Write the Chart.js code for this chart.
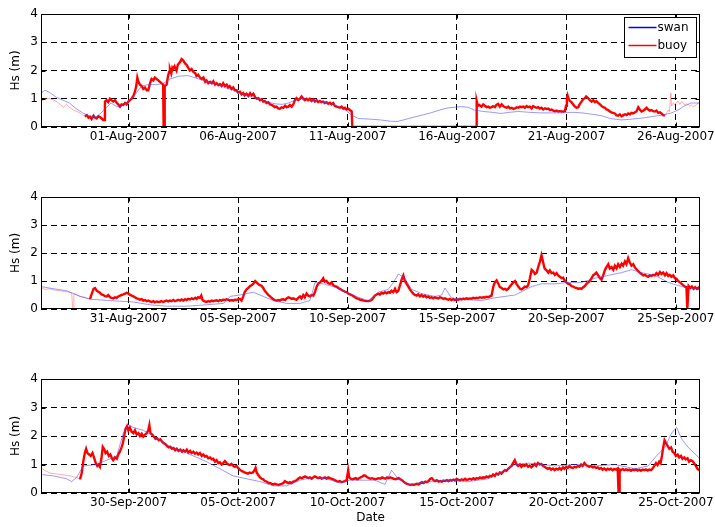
<!DOCTYPE html>
<html>
<head>
<meta charset="utf-8">
<script src="https://cdn.jsdelivr.net/npm/chart.js@4.4.0/dist/chart.umd.min.js"></script>
<style>
  body { margin: 0; background: #fff; }
  #wrap { position: relative; width: 715px; height: 527px; }
  .panel { position: absolute; left: 0; width: 715px; }
</style>
</head>
<body>
<div id="wrap">
  <div class="panel" style="top:0;height:160px"><canvas id="c1"></canvas></div>
  <div class="panel" style="top:180px;height:160px"><canvas id="c2"></canvas></div>
  <div class="panel" style="top:360px;height:167px"><canvas id="c3"></canvas></div>
</div>
<script>
// x = days since the start of each panel (28-Jul, 27-Aug, 26-Sep 2007), y = Hs in metres
const tickDays = [4, 9, 14, 19, 24, 29];
const augLabels = ["01-Aug-2007", "06-Aug-2007", "11-Aug-2007", "16-Aug-2007", "21-Aug-2007", "26-Aug-2007"];
const sepLabels = ["31-Aug-2007", "05-Sep-2007", "10-Sep-2007", "15-Sep-2007", "20-Sep-2007", "25-Sep-2007"];
const octLabels = ["30-Sep-2007", "05-Oct-2007", "10-Oct-2007", "15-Oct-2007", "20-Oct-2007", "25-Oct-2007"];
const yTicks = [0, 1, 2, 3, 4];
const seriesNames = ["swan", "buoy"];

const swanAug = [[0,1.2],[0.18,1.3],[0.4,1.22],[0.7,1.05],[1.0,0.95],[1.3,0.85],[1.6,0.65],[1.9,0.5],[2.2,0.4],[2.5,0.35],[2.75,0.5],[3.0,0.7],[3.2,0.85],[3.4,0.75],[3.6,0.7],[3.9,0.85],[4.1,0.95],[4.3,1.15],[4.6,1.45],[4.9,1.5],[5.3,1.5],[5.6,1.55],[5.9,1.7],[6.3,1.8],[6.7,1.82],[7.0,1.75],[7.4,1.65],[7.9,1.55],[8.4,1.4],[8.8,1.3],[9.2,1.15],[9.7,1.05],[10.2,0.92],[10.7,0.82],[11.0,0.8],[11.3,0.85],[11.6,0.95],[11.9,1.0],[12.3,0.97],[12.7,0.9],[13.1,0.85],[13.5,0.75],[13.9,0.6],[14.2,0.42],[14.5,0.3],[15.0,0.28],[15.5,0.25],[16.0,0.2],[16.3,0.2],[16.8,0.3],[17.3,0.4],[17.8,0.5],[18.2,0.6],[18.6,0.68],[18.9,0.7],[19.2,0.72],[19.5,0.7],[19.8,0.6],[20.2,0.55],[20.6,0.52],[21.0,0.48],[21.4,0.52],[21.8,0.55],[22.3,0.52],[22.8,0.5],[23.3,0.5],[23.8,0.5],[24.3,0.52],[24.7,0.5],[25.2,0.45],[25.6,0.4],[26.0,0.3],[26.5,0.25],[27.0,0.28],[27.5,0.32],[28.0,0.38],[28.4,0.42],[28.8,0.5],[29.1,0.6],[29.4,0.75],[29.7,0.85],[30.1,0.85]];

const buoyAug = [[0,0.9],[0.2,1.0],[0.41,1.0],[0.6,0.95],[0.72,0.9],[0.87,0.8],[1.02,0.7],[1.17,0.8],[1.3,0.7],[1.48,0.6],[1.63,0.55],[1.78,0.5],[1.93,0.4],
[2.0,0.38],[2.09,0.42],[2.17,0.33],[2.24,0.36],[2.31,0.28],[2.4,0.4],[2.47,0.33],[2.54,0.3],[2.62,0.38],[2.69,0.35],[2.77,0.3],[2.85,0.25],[2.9,0.25],[2.92,0.9],[3.0,0.95],[3.07,0.88],[3.15,1.0],[3.22,0.95],[3.3,0.9],[3.38,0.95],[3.46,0.85],[3.53,0.8],[3.61,0.72],[3.68,0.8],[3.76,0.78],[3.84,0.85],[3.91,0.8],[3.99,0.9],[4.07,0.95],[4.14,1.0],[4.22,1.1],[4.29,1.25],[4.35,1.45],[4.4,1.75],[4.45,1.6],[4.52,1.5],[4.6,1.45],[4.67,1.35],[4.75,1.4],[4.83,1.3],[4.9,1.3],[4.95,1.45],[5.0,1.6],[5.05,1.7],[5.13,1.65],[5.2,1.75],[5.28,1.7],[5.36,1.65],[5.43,1.6],[5.5,1.55],[5.58,1.5],[5.6,0],[5.63,0],[5.65,1.45],[5.74,1.5],[5.8,1.8],[5.85,1.95],[5.89,2.05],[5.95,1.9],[6.0,2.1],[6.04,2.05],[6.1,2.15],[6.19,2.0],[6.25,2.2],[6.35,2.3],[6.42,2.4],[6.5,2.35],[6.58,2.25],[6.65,2.2],[6.72,2.1],[6.8,2.0],[6.88,2.05],[6.96,1.95],[7.05,1.9],[7.1,1.8],[7.18,1.85],[7.26,1.75],[7.34,1.7],[7.42,1.75],[7.5,1.6],[7.56,1.65],[7.64,1.55],[7.72,1.6],[7.8,1.55],[7.87,1.62],[7.95,1.5],[8.02,1.55],[8.1,1.48],[8.17,1.52],[8.25,1.45],[8.32,1.55],[8.4,1.45],[8.48,1.5],[8.55,1.4],[8.62,1.45],[8.7,1.35],[8.78,1.4],[8.85,1.3],[8.93,1.3],[9.0,1.22],[9.09,1.25],[9.16,1.15],[9.24,1.2],[9.3,1.12],[9.39,1.18],[9.47,1.1],[9.55,1.2],[9.62,1.12],[9.7,1.18],[9.78,1.05],[9.85,1.0],[9.93,1.02],[10.0,0.95],[10.08,0.98],[10.15,0.9],[10.22,0.92],[10.3,0.85],[10.38,0.88],[10.46,0.8],[10.53,0.78],[10.61,0.75],[10.68,0.7],[10.76,0.72],[10.83,0.66],[10.91,0.65],[10.99,0.7],[11.07,0.68],[11.15,0.75],[11.22,0.7],[11.3,0.72],[11.37,0.78],[11.45,0.72],[11.52,0.8],[11.6,0.95],[11.67,1.02],[11.75,0.95],[11.83,1.0],[11.9,1.08],[11.98,1.0],[12.05,0.95],[12.13,1.0],[12.2,0.95],[12.28,1.0],[12.36,0.92],[12.44,0.98],[12.51,0.9],[12.59,0.95],[12.66,0.88],[12.74,0.92],[12.81,0.88],[12.89,0.9],[12.96,0.85],[13.04,0.88],[13.12,0.82],[13.2,0.86],[13.27,0.8],[13.35,0.85],[13.42,0.75],[13.5,0.72],[13.58,0.7],[13.65,0.68],[13.73,0.72],[13.81,0.65],[13.88,0.68],[13.96,0.62],[14.03,0.65],[14.11,0.6],[14.19,0.55],[14.22,0],[19.88,0],
[19.9,0.92],[19.95,0.75],[20.02,0.78],[20.12,0.72],[20.2,0.8],[20.28,0.75],[20.35,0.7],[20.43,0.72],[20.5,0.68],[20.58,0.7],[20.65,0.74],[20.73,0.7],[20.8,0.78],[20.88,0.82],[20.96,0.72],[21.04,0.8],[21.12,0.74],[21.19,0.7],[21.27,0.68],[21.34,0.72],[21.42,0.66],[21.5,0.68],[21.58,0.64],[21.65,0.66],[21.73,0.7],[21.8,0.68],[21.88,0.72],[21.95,0.7],[22.03,0.72],[22.1,0.68],[22.18,0.74],[22.25,0.7],[22.33,0.72],[22.41,0.66],[22.48,0.74],[22.56,0.7],[22.64,0.68],[22.71,0.7],[22.79,0.65],[22.86,0.68],[22.94,0.62],[23.02,0.66],[23.09,0.64],[23.17,0.65],[23.25,0.6],[23.32,0.62],[23.4,0.58],[23.47,0.56],[23.55,0.58],[23.62,0.55],[23.7,0.56],[23.78,0.55],[23.85,0.55],[23.93,0.56],[23.98,0.75],[24.02,1.0],[24.05,1.12],[24.1,1.0],[24.16,0.92],[24.23,0.88],[24.31,0.8],[24.39,0.72],[24.46,0.68],[24.54,0.7],[24.6,0.8],[24.69,0.9],[24.76,0.98],[24.84,1.02],[24.9,1.08],[24.99,1.02],[25.07,0.95],[25.15,0.9],[25.22,0.95],[25.3,0.88],[25.37,0.92],[25.45,0.85],[25.53,0.8],[25.6,0.75],[25.68,0.7],[25.76,0.68],[25.83,0.62],[25.91,0.6],[25.98,0.55],[26.06,0.52],[26.13,0.5],[26.21,0.48],[26.28,0.42],[26.36,0.4],[26.44,0.45],[26.52,0.38],[26.6,0.42],[26.67,0.45],[26.75,0.42],[26.82,0.48],[26.9,0.45],[26.97,0.5],[27.05,0.48],[27.13,0.52],[27.2,0.55],[27.28,0.7],[27.35,0.62],[27.43,0.55],[27.51,0.58],[27.58,0.62],[27.66,0.68],[27.73,0.62],[27.81,0.58],[27.89,0.6],[27.96,0.56],[28.04,0.55],[28.11,0.58],[28.19,0.5],[28.27,0.52],[28.34,0.48],[28.42,0.42],[28.5,0.4],
[28.58,0.5],[28.65,0.6],[28.7,0.55],[28.77,1.2],[28.8,0.75],[28.88,0.85],[28.95,0.8],[29.03,0.88],[29.1,0.92],[29.18,0.8],[29.26,0.9],[29.33,0.85],[29.41,0.78],[29.48,0.82],[29.56,0.8],[29.64,0.74],[29.71,0.78],[29.79,0.72],[29.87,0.75],[29.95,0.8],[30.02,0.85],[30.1,0.82]];

const swanSep = [[0,0.8],[0.6,0.72],[1.17,0.65],[1.5,0.55],[1.78,0.45],[2.24,0.35],[3.15,0.3],[4.22,0.25],[4.98,0.15],[5.74,0.1],[6.65,0.1],[7.56,0.15],[8.33,0.2],[8.5,0.3],[8.63,0.45],[9.09,0.5],[9.7,0.6],[10.15,0.45],[10.61,0.3],[11.22,0.2],[11.83,0.2],[12.28,0.3],[12.4,0.6],[12.51,0.95],[12.89,0.9],[13.35,0.8],[13.96,0.6],[14.5,0.42],[14.95,0.3],[15.41,0.6],[15.86,0.7],[16.1,0.95],[16.32,1.25],[16.62,1.1],[16.93,0.7],[17.38,0.55],[17.99,0.45],[18.3,0.5],[18.45,0.75],[18.75,0.4],[19.21,0.35],[20.12,0.3],[20.73,0.4],[21.65,0.5],[22.41,0.8],[22.86,0.9],[23.47,0.9],[24.08,0.95],[24.69,0.95],[25.3,1.1],[25.91,1.2],[26.52,1.3],[26.97,1.4],[27.43,1.3],[28.04,1.2],[28.65,0.95],[29.26,0.8],[30.1,0.7]];

const buoySep = [[0,0.75],[0.2,0.7],[0.41,0.72],[0.6,0.68],[0.87,0.65],[1.1,0.62],[1.3,0.6],[1.4,0.58],[1.45,0],[1.48,0],[1.5,0.55],[1.63,0.5],[1.8,0.45],[2.0,0.42],[2.15,0.38],
[2.24,0.35],[2.32,0.55],[2.4,0.72],[2.47,0.75],[2.55,0.65],[2.62,0.62],[2.69,0.58],[2.77,0.52],[2.85,0.5],[2.92,0.46],[3.0,0.45],[3.07,0.5],[3.15,0.42],[3.22,0.4],[3.3,0.38],[3.38,0.42],[3.46,0.4],[3.53,0.45],[3.61,0.48],[3.68,0.5],[3.76,0.52],[3.84,0.55],[3.91,0.58],[3.99,0.55],[4.07,0.5],[4.14,0.48],[4.22,0.45],[4.29,0.42],[4.37,0.38],[4.45,0.36],[4.52,0.33],[4.6,0.35],[4.67,0.3],[4.75,0.32],[4.83,0.28],[4.9,0.3],[4.98,0.27],[5.05,0.25],[5.13,0.28],[5.2,0.24],[5.28,0.27],[5.36,0.25],[5.43,0.26],[5.5,0.28],[5.58,0.25],[5.66,0.28],[5.74,0.3],[5.81,0.27],[5.89,0.3],[5.96,0.28],[6.04,0.32],[6.12,0.28],[6.19,0.3],[6.27,0.33],[6.35,0.3],[6.42,0.34],[6.5,0.3],[6.58,0.35],[6.65,0.32],[6.72,0.36],[6.8,0.34],[6.88,0.38],[6.96,0.35],[7.05,0.4],[7.11,0.36],[7.18,0.42],[7.26,0.4],[7.32,0.48],[7.38,0.32],[7.45,0.28],[7.56,0.25],[7.64,0.28],[7.72,0.26],[7.8,0.3],[7.87,0.28],[7.95,0.3],[8.02,0.31],[8.1,0.28],[8.17,0.32],[8.25,0.3],[8.32,0.33],[8.4,0.32],[8.48,0.35],[8.55,0.33],[8.62,0.3],[8.7,0.32],[8.78,0.3],[8.85,0.33],[8.93,0.32],[9.0,0.35],[9.09,0.36],[9.16,0.3],[9.24,0.45],[9.3,0.6],[9.39,0.7],[9.47,0.75],[9.55,0.82],[9.62,0.85],[9.7,0.9],[9.78,1.0],[9.85,0.95],[9.93,0.88],[10.0,0.85],[10.08,0.82],[10.15,0.75],[10.22,0.65],[10.3,0.58],[10.38,0.5],[10.46,0.45],[10.53,0.4],[10.61,0.35],[10.68,0.32],[10.76,0.3],[10.83,0.32],[10.91,0.3],[10.99,0.34],[11.07,0.35],[11.15,0.32],[11.22,0.38],[11.3,0.42],[11.37,0.4],[11.45,0.36],[11.52,0.38],[11.6,0.35],[11.67,0.33],[11.75,0.4],[11.83,0.45],[11.9,0.38],[11.98,0.5],[12.05,0.42],[12.13,0.55],[12.2,0.48],[12.28,0.45],[12.36,0.5],[12.44,0.48],[12.51,0.6],[12.59,0.8],[12.66,0.9],[12.74,0.95],[12.81,1.0],[12.89,1.1],[12.96,0.98],[13.04,1.0],[13.12,0.92],[13.2,0.9],[13.27,0.95],[13.35,0.85],[13.42,0.82],[13.5,0.8],[13.58,0.75],[13.65,0.72],[13.73,0.68],[13.81,0.65],[13.88,0.62],[13.96,0.6],[14.03,0.55],[14.11,0.52],[14.19,0.5],[14.26,0.46],[14.34,0.42],
[14.42,0.38],[14.5,0.36],[14.58,0.33],[14.65,0.32],[14.73,0.3],[14.8,0.29],[14.88,0.28],[14.95,0.28],[15.03,0.3],[15.1,0.32],[15.18,0.4],[15.25,0.48],[15.33,0.52],[15.41,0.55],[15.48,0.52],[15.56,0.58],[15.63,0.55],[15.71,0.6],[15.79,0.56],[15.86,0.6],[15.94,0.58],[16.01,0.65],[16.09,0.6],[16.17,0.72],[16.24,0.6],[16.32,0.65],[16.4,0.85],[16.47,1.05],[16.55,1.2],[16.62,1.0],[16.7,0.9],[16.78,0.8],[16.85,0.7],[16.93,0.62],[17.0,0.55],[17.08,0.5],[17.16,0.48],[17.23,0.52],[17.31,0.45],[17.38,0.5],[17.46,0.44],[17.53,0.48],[17.61,0.42],[17.69,0.45],[17.76,0.4],[17.84,0.42],[17.92,0.38],[17.99,0.42],[18.07,0.4],[18.15,0.38],[18.22,0.42],[18.3,0.4],[18.38,0.36],[18.45,0.38],[18.53,0.35],[18.6,0.33],[18.68,0.36],[18.75,0.32],[18.83,0.35],[18.91,0.32],[18.98,0.34],[19.06,0.33],[19.13,0.36],[19.21,0.34],[19.29,0.37],[19.36,0.35],[19.44,0.38],[19.52,0.36],[19.59,0.38],[19.67,0.37],[19.74,0.4],[19.82,0.38],[19.9,0.4],[19.97,0.39],[20.05,0.42],[20.12,0.4],[20.2,0.42],[20.28,0.41],[20.35,0.44],[20.43,0.42],[20.5,0.45],[20.58,0.48],[20.66,0.8],[20.73,0.95],[20.81,1.02],[20.89,0.9],[20.96,0.78],[21.04,0.75],[21.12,0.7],[21.19,0.72],[21.27,0.68],[21.34,0.72],[21.42,0.8],[21.5,0.88],[21.57,0.95],[21.65,1.0],[21.72,0.9],[21.8,0.8],[21.88,0.72],[21.95,0.7],[22.03,0.75],[22.1,0.8],[22.18,0.78],[22.25,0.85],[22.33,1.1],[22.41,1.4],[22.48,1.35],[22.56,1.25],[22.64,1.3],[22.71,1.5],[22.79,1.7],[22.86,1.92],[22.94,1.65],[23.0,1.45],[23.09,1.38],[23.17,1.3],[23.24,1.38],[23.32,1.28],[23.4,1.3],[23.47,1.22],[23.55,1.28],[23.62,1.2],[23.7,1.15],[23.78,1.1],[23.85,1.12],[23.93,1.0],[24.0,0.95],[24.08,0.9],[24.16,0.88],[24.23,0.82],[24.31,0.8],[24.39,0.76],[24.46,0.75],[24.54,0.72],[24.62,0.74],[24.69,0.72],[24.77,0.78],[24.84,0.82],[24.92,0.9],[24.99,0.95],[25.07,1.0],[25.15,1.1],[25.22,1.2],[25.3,1.25],[25.37,1.3],[25.45,1.2],[25.53,1.1],[25.6,1.05],[25.68,1.2],[25.76,1.4],[25.83,1.5],[25.91,1.6],[25.98,1.45],[26.06,1.5],[26.14,1.4],[26.21,1.55],[26.29,1.45],[26.36,1.6],[26.44,1.5],[26.52,1.62],[26.59,1.55],[26.67,1.7],[26.74,1.6],[26.82,1.82],[26.9,1.65],[26.97,1.55],[27.05,1.6],[27.13,1.48],[27.2,1.42],[27.28,1.35],[27.35,1.3],[27.43,1.25],[27.51,1.2],[27.58,1.22],[27.66,1.18],[27.73,1.15],[27.81,1.2],[27.89,1.18],[27.96,1.22],[28.04,1.2],[28.11,1.28],[28.19,1.22],[28.27,1.32],[28.34,1.25],[28.42,1.3],[28.5,1.2],[28.57,1.28],[28.65,1.18],[28.72,1.22],[28.8,1.15],[28.88,1.2],[28.95,1.1],[29.03,1.08],[29.1,1.0],[29.18,0.95],[29.26,0.9],[29.33,0.85],[29.41,0.8],[29.48,0.78],[29.52,0],[29.55,0],[29.58,0.82],[29.66,0.75],[29.73,0.8],[29.81,0.72],[29.88,0.78],[29.96,0.72],[30.03,0.76],[30.1,0.7]];

const swanOct = [[0,0.65],[0.56,0.6],[1.17,0.5],[1.4,0.4],[1.63,0.55],[1.93,0.95],[2.54,1.0],[3.0,1.15],[3.46,1.3],[3.76,2.1],[3.99,2.4],[4.22,2.3],[4.67,2.2],[5.13,2.0],[5.74,1.7],[6.35,1.5],[6.96,1.3],[7.56,1.1],[8.17,0.85],[8.78,0.6],[9.39,0.5],[10.0,0.4],[10.61,0.25],[11.22,0.25],[11.83,0.45],[12.44,0.55],[13.04,0.5],[13.65,0.35],[14.11,0.45],[14.6,0.45],[15.25,0.45],[15.71,0.3],[16.01,0.8],[16.32,0.5],[16.78,0.3],[17.69,0.4],[18.6,0.45],[19.52,0.4],[20.43,0.5],[21.19,0.8],[21.65,1.0],[22.25,1.05],[22.86,1.0],[23.47,0.95],[24.39,1.0],[25.3,0.95],[26.21,1.0],[27.13,0.85],[27.73,0.95],[28.11,1.3],[28.5,1.6],[28.8,2.1],[29.03,2.3],[29.26,1.9],[29.56,1.6],[30.1,1.2]];

const buoyOct = [[0,0.88],[0.2,0.78],[0.41,0.7],[0.6,0.68],[0.8,0.66],[1.0,0.64],[1.17,0.62],[1.35,0.6],[1.5,0.56],[1.63,0.55],[1.72,0.5],
[1.78,0.48],[1.86,0.7],[1.93,1.1],[2.0,1.4],[2.06,1.55],[2.12,1.4],[2.2,1.35],[2.27,1.3],[2.35,1.4],[2.42,1.25],[2.5,1.05],[2.57,0.95],[2.63,1.0],[2.69,0.92],[2.76,1.2],[2.82,1.62],[2.88,1.55],[2.95,1.4],[3.02,1.45],[3.1,1.3],[3.17,1.35],[3.25,1.2],[3.3,1.15],[3.38,1.25],[3.46,1.2],[3.53,1.35],[3.6,1.45],[3.68,1.6],[3.74,1.75],[3.8,2.0],[3.86,2.25],[3.93,2.35],[3.99,2.2],[4.06,2.3],[4.14,2.15],[4.22,2.1],[4.29,2.2],[4.37,2.05],[4.45,2.1],[4.52,2.0],[4.6,2.08],[4.67,1.98],[4.75,2.05],[4.83,2.1],[4.9,2.2],[4.95,2.38],[5.0,2.1],[5.08,2.05],[5.15,1.98],[5.23,1.9],[5.3,1.92],[5.38,1.85],[5.45,1.88],[5.53,1.8],[5.6,1.75],[5.68,1.72],[5.75,1.65],[5.83,1.6],[5.9,1.62],[5.98,1.55],[6.05,1.58],[6.13,1.5],[6.2,1.55],[6.28,1.48],[6.36,1.52],[6.44,1.45],[6.5,1.5],[6.58,1.45],[6.66,1.52],[6.73,1.42],[6.81,1.48],[6.88,1.4],[6.96,1.45],[7.03,1.38],[7.11,1.42],[7.18,1.35],[7.26,1.4],[7.34,1.3],[7.41,1.35],[7.49,1.28],[7.56,1.3],[7.64,1.22],[7.72,1.25],[7.8,1.18],[7.87,1.2],[7.95,1.1],[8.02,1.15],[8.1,1.05],[8.17,1.08],[8.25,1.0],[8.32,1.05],[8.4,1.12],[8.48,1.05],[8.55,1.0],[8.63,0.98],[8.7,1.02],[8.78,0.95],[8.85,0.92],[8.93,0.95],[9.0,0.88],[9.08,0.82],[9.15,0.78],[9.23,0.75],[9.3,0.72],[9.38,0.7],[9.45,0.68],[9.53,0.72],[9.6,0.7],[9.68,0.72],[9.75,0.8],[9.8,0.88],[9.85,0.72],[9.93,0.62],[10.0,0.55],[10.08,0.5],[10.15,0.48],[10.23,0.42],[10.3,0.4],[10.38,0.36],[10.46,0.35],[10.53,0.32],[10.61,0.3],[10.68,0.32],[10.76,0.3],[10.84,0.28],[10.91,0.3],[10.99,0.32],[11.07,0.35],[11.14,0.42],[11.22,0.38],[11.29,0.35],[11.37,0.38],[11.45,0.35],[11.52,0.4],[11.6,0.42],[11.67,0.45],[11.75,0.5],[11.83,0.55],[11.9,0.52],[11.98,0.55],[12.06,0.58],[12.13,0.55],[12.2,0.52],[12.28,0.55],[12.36,0.5],[12.44,0.55],[12.51,0.58],[12.59,0.55],[12.66,0.52],[12.74,0.55],[12.82,0.5],[12.89,0.52],[12.97,0.55],[13.04,0.5],[13.12,0.55],[13.2,0.52],[13.27,0.5],[13.35,0.48],[13.42,0.45],[13.5,0.42],[13.58,0.4],[13.65,0.42],[13.73,0.38],[13.81,0.4],[13.88,0.42],[13.96,0.45],[14.03,0.8],[14.08,0.55],[14.15,0.5],[14.22,0.48],[14.3,0.5],[14.38,0.52],[14.45,0.48],[14.53,0.52],[14.6,0.55],[14.68,0.58],[14.75,0.62],[14.83,0.6],[14.9,0.55],[14.98,0.52],[15.05,0.5],[15.13,0.52],[15.2,0.5],[15.28,0.48],[15.35,0.5],[15.43,0.52],[15.5,0.5],[15.58,0.55],[15.66,0.52],[15.73,0.5],[15.81,0.55],[15.88,0.52],[15.96,0.55],[16.03,0.52],[16.11,0.5],[16.18,0.48],[16.26,0.5],[16.34,0.52],[16.41,0.48],[16.49,0.45],[16.56,0.4],[16.64,0.35],[16.72,0.32],[16.79,0.3],[16.87,0.28],[16.95,0.3],[17.02,0.28],[17.1,0.3],[17.17,0.32],[17.25,0.3],[17.33,0.35],[17.4,0.38],[17.48,0.35],[17.55,0.4],[17.63,0.38],[17.7,0.42],[17.78,0.5],[17.85,0.52],[17.93,0.45],[18.0,0.42],[18.08,0.45],[18.16,0.4],[18.23,0.42],[18.31,0.4],[18.38,0.44],[18.46,0.42],[18.54,0.45],[18.61,0.42],[18.69,0.45],[18.76,0.43],[18.84,0.47],[18.91,0.44],[18.99,0.5],[19.06,0.46],[19.14,0.44],[19.22,0.48],[19.29,0.45],[19.37,0.5],[19.44,0.46],[19.52,0.48],[19.59,0.5],[19.67,0.47],[19.75,0.52],[19.82,0.48],[19.9,0.52],[19.97,0.5],[20.05,0.55],[20.12,0.52],[20.2,0.55],[20.27,0.53],[20.35,0.58],[20.43,0.55],[20.5,0.6],[20.58,0.58],[20.65,0.65],[20.73,0.6],[20.8,0.68],[20.88,0.65],[20.96,0.72],[21.03,0.68],[21.11,0.75],[21.19,0.8],[21.26,0.78],[21.34,0.85],[21.41,0.9],[21.49,0.95],[21.56,1.05],[21.64,1.15],[21.72,1.0],[21.79,0.95],[21.87,1.0],[21.94,0.92],[22.02,0.98],[22.09,0.95],[22.17,1.0],[22.25,0.92],[22.32,0.96],[22.4,0.9],[22.47,0.95],[22.55,1.02],[22.62,0.95],[22.7,1.05],[22.78,1.0],[22.85,1.02],[22.93,0.95],[23.0,0.92],[23.08,0.88],[23.15,0.85],[23.23,0.88],[23.3,0.82],[23.38,0.86],[23.46,0.8],[23.53,0.85],[23.61,0.82],[23.68,0.88],[23.76,0.82],[23.84,0.9],[23.91,0.85],[23.99,0.92],[24.06,0.88],[24.14,0.95],[24.21,0.9],[24.29,0.88],[24.37,0.92],[24.44,0.9],[24.52,0.95],[24.59,0.92],[24.67,1.0],[24.74,0.95],[24.82,1.05],[24.9,0.98],[24.97,0.95],[25.05,0.92],[25.12,0.95],[25.2,0.9],[25.28,0.92],[25.35,0.88],[25.43,0.9],[25.5,0.85],[25.58,0.88],[25.65,0.82],[25.73,0.86],[25.81,0.8],[25.88,0.85],[25.96,0.82],[26.03,0.85],[26.11,0.8],[26.18,0.84],[26.26,0.82],[26.34,0.86],[26.38,0],[26.41,0],[26.43,0.82],[26.49,0.8],[26.57,0.84],[26.64,0.8],[26.72,0.83],[26.8,0.8],[26.87,0.82],[26.95,0.78],[27.02,0.82],[27.1,0.8],[27.18,0.83],[27.25,0.79],[27.33,0.82],[27.4,0.78],[27.48,0.82],[27.56,0.8],[27.63,0.83],[27.71,0.79],[27.78,0.82],[27.86,0.8],[27.93,0.85],[28.01,0.95],[28.09,1.05],[28.16,0.98],[28.24,1.1],[28.3,1.05],[28.36,1.3],[28.42,1.6],[28.48,1.85],[28.55,1.75],[28.62,1.65],[28.7,1.55],[28.78,1.6],[28.85,1.45],[28.93,1.4],[29.0,1.3],[29.08,1.35],[29.15,1.25],[29.23,1.3],[29.3,1.2],[29.38,1.25],[29.45,1.18],[29.53,1.22],[29.6,1.1],[29.68,1.15],[29.76,1.12],[29.83,1.05],[29.91,0.95],[29.98,0.85],[30.06,0.8]];

// buoy record drawn thin/pale outside these day ranges
const buoyFullRange = [[1.95, 28.5], [2.2, 99], [1.75, 99]];

const FONT = "'DejaVu Sans', Verdana, sans-serif";
const RED = "#ff0000";
const PALE_RED = "rgba(255,70,70,0.45)";
const SWAN_LINE = "rgba(70,70,255,0.55)";

const toXY = (pts) => pts.map(p => ({ x: p[0], y: p[1] }));

// black box round the axes plus small inward tick marks, like the original figure
const boxPlugin = {
    id: "box",
    afterDraw(chart) {
        const { ctx, chartArea: a, scales } = chart;
        const l = Math.round(a.left) + 0.5, r = Math.round(a.right) - 0.5;
        const t = Math.round(a.top) + 0.5, b = Math.round(a.bottom) - 0.5;
        ctx.save();
        ctx.strokeStyle = "#000";
        ctx.lineWidth = 1;
        ctx.strokeRect(l, t, r - l, b - t);
        ctx.beginPath();
        scales.y.ticks.forEach(tk => {
            const y = Math.round(scales.y.getPixelForValue(tk.value)) + 0.5;
            ctx.moveTo(l, y); ctx.lineTo(l + 4, y);
            ctx.moveTo(r, y); ctx.lineTo(r - 4, y);
        });
        scales.x.ticks.forEach(tk => {
            const x = Math.round(scales.x.getPixelForValue(tk.value)) + 0.5;
            ctx.moveTo(x, b); ctx.lineTo(x, b - 4);
            ctx.moveTo(x, t); ctx.lineTo(x, t + 4);
        });
        ctx.stroke();
        ctx.restore();
    }
};

const legendPlugin = {
    id: "boxLegend",
    afterDraw(chart, args, opts) {
        if (!opts.show) return;
        const { ctx, chartArea: a } = chart;
        const w = 72, h = 40;
        const x0 = Math.round(a.right) - 4 - w + 0.5, y0 = Math.round(a.top) + 3 + 0.5;
        ctx.save();
        ctx.fillStyle = "#fff";
        ctx.fillRect(x0, y0, w, h);
        ctx.strokeStyle = "#000";
        ctx.lineWidth = 1;
        ctx.strokeRect(x0, y0, w, h);
        ctx.font = "12px " + FONT;
        ctx.textBaseline = "middle";
        const colors = ["#0000ff", RED];
        seriesNames.forEach((name, i) => {
            const y = y0 + 10 + i * 18;
            ctx.strokeStyle = colors[i];
            ctx.lineWidth = 1.5;
            ctx.beginPath();
            ctx.moveTo(x0 + 4, y); ctx.lineTo(x0 + 32, y);
            ctx.stroke();
            ctx.fillStyle = "#000";
            ctx.fillText(name, x0 + 33, y);
        });
        ctx.restore();
    }
};

function makePanel(canvasId, swan, buoy, labels, fullRange, padTop, xHeight, showLegend, showDate) {
    const pale = (c) => c.p0.parsed.x < fullRange[0] || c.p1.parsed.x > fullRange[1];
    return new Chart(document.getElementById(canvasId), {
        type: "line",
        data: {
            datasets: [
                {
                    label: seriesNames[0],
                    data: toXY(swan),
                    borderColor: SWAN_LINE,
                    borderWidth: 1,
                    pointRadius: 0,
                    tension: 0
                },
                {
                    label: seriesNames[1],
                    data: toXY(buoy),
                    borderColor: RED,
                    borderWidth: 2.4,
                    pointRadius: 0,
                    tension: 0,
                    segment: {
                        borderColor: c => pale(c) ? PALE_RED : RED,
                        borderWidth: c => pale(c) ? 1 : 2.4
                    }
                }
            ]
        },
        options: {
            responsive: true,
            maintainAspectRatio: false,
            animation: false,
            events: [],
            layout: { padding: { top: padTop, right: 15, left: 0, bottom: 0 } },
            plugins: {
                legend: { display: false },
                tooltip: { enabled: false },
                boxLegend: { show: showLegend }
            },
            scales: {
                x: {
                    type: "linear",
                    min: 0,
                    max: 30.1,
                    afterBuildTicks: (scale) => {
                        scale.ticks = tickDays.map(v => ({ value: v }));
                    },
                    afterFit: (scale) => {
                        scale.height = xHeight;
                        scale.paddingLeft = 0;
                        scale.paddingRight = 0;
                    },
                    ticks: {
                        autoSkip: false,
                        maxRotation: 0,
                        padding: 3,
                        color: "#000",
                        font: { family: FONT, size: 12 },
                        callback: (v, i) => labels[i]
                    },
                    grid: { color: "#000", lineWidth: 1, drawTicks: false },
                    border: { display: false, dash: [6, 4] },
                    title: {
                        display: showDate,
                        text: "Date",
                        color: "#000",
                        font: { family: FONT, size: 12 },
                        padding: { top: 0, bottom: 2 }
                    }
                },
                y: {
                    min: 0,
                    max: 4,
                    afterBuildTicks: (scale) => {
                        scale.ticks = yTicks.map(v => ({ value: v }));
                    },
                    afterFit: (scale) => { scale.width = 41; },
                    ticks: {
                        padding: 3,
                        color: "#000",
                        font: { family: FONT, size: 12 }
                    },
                    grid: { color: "#000", lineWidth: 1, drawTicks: false },
                    border: { display: false, dash: [6, 4] },
                    title: {
                        display: true,
                        text: "Hs (m)",
                        color: "#000",
                        font: { family: FONT, size: 12 },
                        padding: { top: 9, bottom: 0 }
                    }
                }
            }
        },
        plugins: [boxPlugin, legendPlugin]
    });
}

makePanel("c1", swanAug, buoyAug, augLabels, buoyFullRange[0], 14, 33, true, false);
makePanel("c2", swanSep, buoySep, sepLabels, buoyFullRange[1], 17, 31, false, false);
makePanel("c3", swanOct, buoyOct, octLabels, buoyFullRange[2], 19, 34, false, true);
</script>
</body>
</html>
